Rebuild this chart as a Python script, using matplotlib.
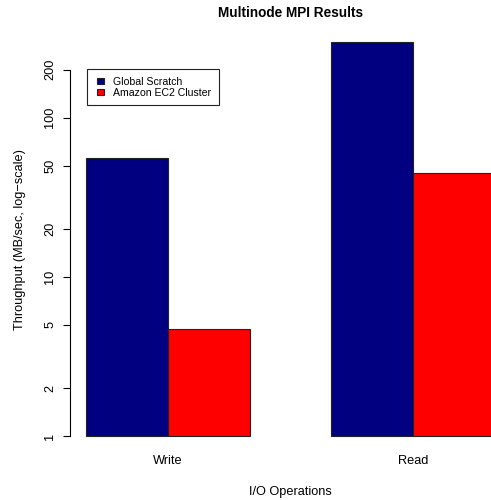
import matplotlib
matplotlib.use("Agg")
import matplotlib.pyplot as plt
import matplotlib.patches as mpatches
from matplotlib.legend_handler import HandlerPatch
import numpy as np

plt.rcParams['font.family'] = ['Liberation Sans', 'DejaVu Sans']

operations = ["Write", "Read"]
series_names = ["Global Scratch", "Amazon EC2 Cluster"]
global_scratch = [56.0, 299.0]
amazon_ec2 = [4.7, 44.9]
colors = ["#000080", "#FF0000"]
yticks = [1, 2, 5, 10, 20, 50, 100, 200]

W, H = 491, 500
fig = plt.figure(figsize=(W / 100, H / 100), dpi=100)
ax = fig.add_axes([70 / W, 1 - 452 / H, 441 / W, 426 / H])

n = len(operations)
group_starts = 1 + np.arange(n) * 3
series = [global_scratch, amazon_ec2]
for i, vals in enumerate(series):
    lefts = group_starts + i
    ax.bar(lefts, np.array(vals) - 1, width=1, bottom=1, align='edge',
           color=colors[i], edgecolor='#222222', linewidth=0.8,
           label=series_names[i])

ax.set_yscale('log')
ymax = max(max(global_scratch), max(amazon_ec2))
lo, hi = 0.0, np.log10(ymax)
ext = 0.04 * (hi - lo)
ax.set_ylim(10 ** (lo - ext), 10 ** (hi + ext))
ax.set_xlim(1 - 0.2, group_starts[-1] + 2 + 0.2)

for s in ['top', 'right', 'bottom']:
    ax.spines[s].set_visible(False)
ax.spines['left'].set_bounds(yticks[0], yticks[-1])
ax.spines['left'].set_linewidth(0.8)
ax.set_yticks(yticks)
ax.set_yticklabels([str(t) for t in yticks], rotation=90, va='center')
ax.yaxis.set_minor_locator(matplotlib.ticker.NullLocator())
ax.tick_params(axis='y', direction='out', length=5.0, width=0.8, pad=5,
               labelsize=9.2)
ax.set_xticks(group_starts + 1)
ax.set_xticklabels(operations)
ax.tick_params(axis='x', length=0, pad=2.0, labelsize=9.2)

ax.set_xlabel("I/O Operations", fontsize=9.2, labelpad=14)
ax.set_ylabel("Throughput (MB/sec, log\u2212scale)", fontsize=9.2, labelpad=13)
ax.set_title("Multinode MPI Results", fontsize=9.8, fontweight='bold', pad=6.5)


def square_patch(legend, orig_handle, xdescent, ydescent, width, height, fontsize):
    return mpatches.Rectangle((-xdescent + width - height, -ydescent), height, height)


proxies = [mpatches.Patch(facecolor=colors[i], edgecolor='#222222', linewidth=0.8)
           for i in range(len(series_names))]
leg = ax.legend(proxies, series_names, loc='upper left',
                bbox_to_anchor=(86.7 / W, 1 - 69.3 / H),
                bbox_transform=fig.transFigure, borderaxespad=0,
                fontsize=7.6, handlelength=0.95, handleheight=0.6,
                handletextpad=0.86, borderpad=0.7, labelspacing=0.1,
                fancybox=False, framealpha=1, edgecolor='#222222',
                handler_map={mpatches.Patch: HandlerPatch(patch_func=square_patch)})
leg.get_frame().set_linewidth(0.8)

fig.savefig("out.png", dpi=100)
